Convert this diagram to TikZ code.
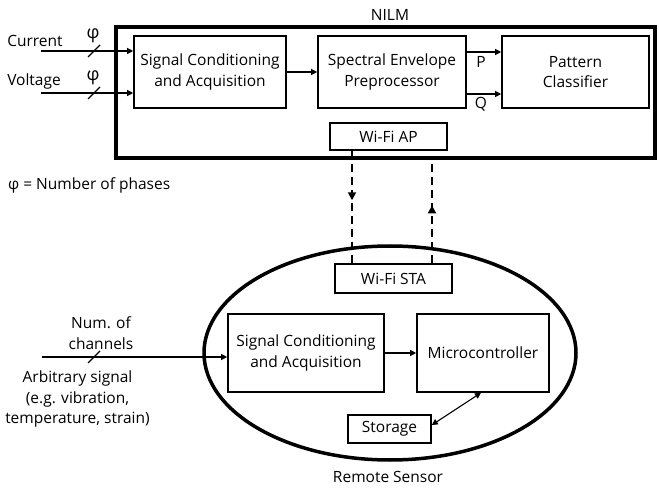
\documentclass[tikz,border=0pt]{standalone}
\usepackage{fontspec}
\setmainfont{Open Sans}
\usetikzlibrary{arrows.meta,decorations.markings,shapes.geometric}

\begin{document}
\begin{tikzpicture}[x=1pt,y=-1pt,
  font=\fontsize{15.5}{20.5}\selectfont,
  blk/.style={draw, line width=1.6pt, align=center, inner sep=0pt},
  arr/.style={line width=1.1pt, -{Triangle[length=6pt,width=6pt]}},
  slash/.style={line width=1.1pt},
  wifi/.style={line width=1.8pt, dash pattern=on 8pt off 5pt},
  midtip/.style={postaction={decorate}, decoration={markings,
      mark=at position #1 with {\arrow{Triangle[length=8pt,width=8pt]}}}},
  lbl/.style={inner sep=0pt, align=center}
]
\useasboundingbox (0,0) rectangle (659,489);

% ---------------- NILM unit ----------------
\node[draw, line width=4pt, minimum width=539pt, minimum height=131pt, inner sep=0pt]
  (nilm) at (385.5,92.5) {};
\node[lbl] (nilmlbl) at (390,15) {NILM};

\node[blk, minimum width=152pt, minimum height=72pt] (sc1) at (210,72)
  {Signal Conditioning\\and Acquisition};
\node[blk, minimum width=148pt, minimum height=72pt] (sep) at (392,72)
  {Spectral Envelope\\Preprocessor};
\node[blk, minimum width=147pt, minimum height=72pt] (pc) at (575.5,72)
  {Pattern\\Classifier};
\node[blk, minimum width=117pt, minimum height=27pt] (ap) at (388.5,136.5) {Wi-Fi AP};

% inputs with phase-count slashes
\coordinate (cur) at (41,51);
\coordinate (vol) at (41,93);
\node[lbl] (curlbl) at (35,41) {Current};
\node[lbl] (vollbl) at (34,81) {Voltage};
\draw[arr] (cur) -- (cur -| sc1.west);
\draw[arr] (vol) -- (vol -| sc1.west);
\draw[slash] (88,57) -- (100,45);
\draw[slash] (88,99) -- (100,87);
\node[lbl, font=\fontsize{18}{20}\selectfont] (phi1) at (93,36) {φ};
\node[lbl, font=\fontsize{18}{20}\selectfont] (phi2) at (93,78) {φ};

\draw[arr] (sc1) -- (sep);
\coordinate (prow) at (0,52);
\coordinate (qrow) at (0,94);
\draw[arr] (sep.east |- prow) -- (pc.west |- prow);
\draw[arr] (sep.east |- qrow) -- (pc.west |- qrow);
\node[lbl] (plbl) at (481,62) {P};
\node[lbl] (qlbl) at (481,104) {Q};

\node[lbl, anchor=west] (legend) at (8,185) {φ = Number of phases};

% ---------------- Remote sensor ----------------
\node[draw, ellipse, line width=3.5pt, minimum width=372pt, minimum height=214pt, inner sep=0pt]
  (rs) at (390,353) {};
\node[lbl] (rslbl) at (388,477) {Remote Sensor};

\node[blk, minimum width=117pt, minimum height=29pt, fill=white] (sta) at (393.5,278.5) {Wi-Fi STA};
\node[blk, minimum width=156pt, minimum height=78pt] (sc2) at (306,353)
  {Signal Conditioning\\and Acquisition};
\node[blk, minimum width=132pt, minimum height=78pt] (mc) at (483,353) {Microcontroller};
\node[blk, minimum width=83pt, minimum height=28pt] (st) at (389.5,429) {Storage};

\draw[arr] (sc2) -- (mc);
\coordinate (mcport) at (481,0);
\draw[line width=1.1pt, {Triangle[length=6pt,width=6pt]}-{Triangle[length=6pt,width=6pt]}]
  ([yshift=4pt]st.east) -- (mc.south -| mcport);

% arbitrary-signal input
\coordinate (sig) at (42,357);
\draw[arr] (sig) -- (sig -| sc2.west);
\draw[slash] (88,363) -- (100,351);
\node[lbl] (chlbl) at (101,333) {Num. of\\channels};
\node[lbl] (siglbl) at (77.5,399) {Arbitrary signal\\(e.g. vibration,\\temperature, strain)};

% ---------------- Wi-Fi link ----------------
\coordinate (dl) at (352,0);
\coordinate (dr) at (432,0);
\draw[wifi, midtip=0.44] (ap.south -| dl) -- (sta.north -| dl);
\draw[wifi, midtip=0.56] (sta.north -| dr) -- (nilm.south -| dr);
\end{tikzpicture}
\end{document}
